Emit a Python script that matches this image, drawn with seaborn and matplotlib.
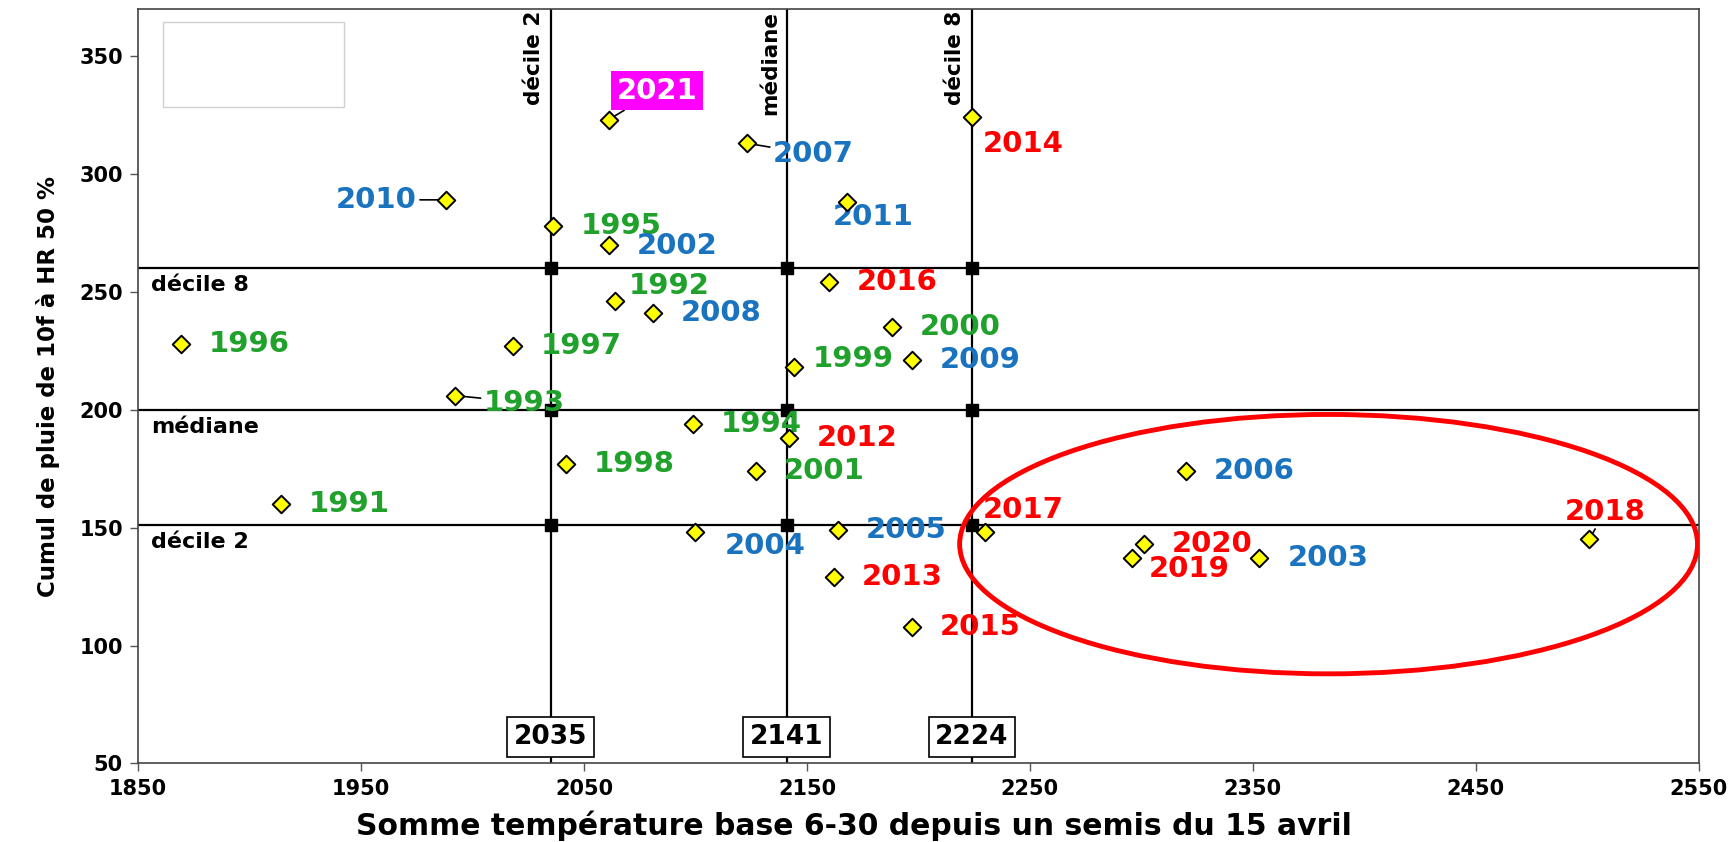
import matplotlib
matplotlib.use("Agg")
import matplotlib.pyplot as plt
import matplotlib.transforms as mtransforms
from matplotlib.patches import Ellipse, Rectangle
import seaborn as sns
import pandas as pd

# Data
years = [1991, 1992, 1993, 1994, 1995, 1996, 1997, 1998, 1999, 2000, 2001,
         2002, 2003, 2004, 2005, 2006, 2007, 2008, 2009, 2010, 2011,
         2012, 2013, 2014, 2015, 2016, 2017, 2018, 2019, 2020, 2021]
somme_temp = [1914, 2064, 1992, 2099, 2036, 1869, 2018, 2042, 2144, 2188, 2127,
              2061, 2353, 2100, 2164, 2320, 2123, 2081, 2197, 1988, 2168,
              2142, 2162, 2224, 2197, 2160, 2230, 2501, 2296, 2301, 2061]
cumul_pluie = [160, 246, 206, 194, 278, 228, 227, 177, 218, 235, 174,
               270, 137, 148, 149, 174, 313, 241, 221, 289, 288,
               188, 129, 324, 108, 254, 148, 145, 137, 143, 323]

deciles_temp = [2035, 2141, 2224]
deciles_temp_names = ["décile 2", "médiane", "décile 8"]
deciles_pluie = [151, 200, 260]
deciles_pluie_names = ["décile 2", "médiane", "décile 8"]

period_colors = {"1991-2001": "#1fa12b", "2002-2011": "#1a73bf", "2012-2020": "#ff0000"}


def period_of(year):
    if year <= 2001:
        return "1991-2001"
    if year <= 2011:
        return "2002-2011"
    return "2012-2020"


df = pd.DataFrame({"annee": years, "temp": somme_temp, "pluie": cumul_pluie})

# label placement (offset in points, alignment, leader line)
label_layout = {
    1992: ((10, 11), "left", False),
    1993: ((21, -5), "left", True),
    1999: ((14, 6), "left", False),
    2002: ((20, -1), "left", False),
    2004: ((21, -10), "left", False),
    2007: ((19, -8), "left", True),
    2010: ((-21, 0), "right", True),
    2011: ((-10, -11), "left", False),
    2014: ((8, -19), "left", False),
    2017: ((-2, 16), "left", False),
    2018: ((11, 20), "center", True),
    2019: ((12, -8), "left", False),
    2021: ((35, 21), "center", True),
}
default_layout = ((20, 0), "left", False)

sns.set_theme(style="ticks")
plt.rcParams["font.family"] = ["DejaVu Sans"]
plt.rcParams["font.weight"] = "bold"
plt.rcParams["text.color"] = "black"
plt.rcParams["axes.labelcolor"] = "black"
plt.rcParams["xtick.labelcolor"] = "black"
plt.rcParams["ytick.labelcolor"] = "black"

fig = plt.figure(figsize=(17.34, 8.42), dpi=100)
ax = fig.add_axes([0.0797, 0.0933, 0.8999, 0.8962])

# decile lines
for xv in deciles_temp:
    ax.axvline(xv, color="black", lw=1.6, zorder=1)
for yv in deciles_pluie:
    ax.axhline(yv, color="black", lw=1.6, zorder=1)
for xv in deciles_temp:
    ax.scatter([xv] * len(deciles_pluie), deciles_pluie, marker="s", s=85,
               color="black", zorder=2)

sns.scatterplot(data=df, x="temp", y="pluie", marker="D", s=80, color="#ffff00",
                edgecolor="black", linewidth=1.4, ax=ax, zorder=4)

for yr, xv, yv in zip(years, somme_temp, cumul_pluie):
    (dx, dy), ha, leader = label_layout.get(yr, default_layout)
    arrow = dict(arrowstyle="-", color="black", lw=1.2, shrinkA=0, shrinkB=0) if leader else None
    if yr == 2021:
        ax.annotate(str(yr), xy=(xv, yv), xytext=(dx, dy), textcoords="offset points",
                    ha=ha, va="center", fontsize=21, fontweight="bold", color="white",
                    bbox=dict(boxstyle="square,pad=0.2", fc="#ff00ff", ec="none"),
                    arrowprops=arrow, zorder=3)
    else:
        ax.annotate(str(yr), xy=(xv, yv), xytext=(dx, dy), textcoords="offset points",
                    ha=ha, va="center", fontsize=21, fontweight="bold",
                    color=period_colors[period_of(yr)], arrowprops=arrow, zorder=3)

# decile names
trans_x = mtransforms.blended_transform_factory(ax.transData, ax.transAxes)
for xv, name in zip(deciles_temp, deciles_temp_names):
    ax.text(xv - 3, 0.997, name, transform=trans_x, rotation=90, ha="right", va="top",
            fontsize=15.5, fontweight="bold", color="black")
    ax.text(xv, 0.035, str(xv), transform=trans_x, ha="center", va="center",
            fontsize=19, fontweight="bold", color="black",
            bbox=dict(boxstyle="square,pad=0.25", fc="white", ec="black", lw=1.2), zorder=5)

trans_y = mtransforms.blended_transform_factory(ax.transAxes, ax.transData)
for yv, name in zip(deciles_pluie, deciles_pluie_names):
    ax.annotate(name, xy=(0.008, yv), xycoords=trans_y, xytext=(0, -5),
                textcoords="offset points", ha="left", va="top",
                fontsize=16, fontweight="bold", color="black")

# highlighted zone and empty box
ax.add_patch(Ellipse((2384, 143), width=331, height=110, fill=False,
                     edgecolor="#ff0000", lw=3.5, zorder=6))
ax.add_patch(Rectangle((0.0156, 0.8695), 0.1164, 0.1125, transform=ax.transAxes,
                       fill=False, edgecolor="#d0d0d0", lw=1))

ax.set_xlim(1850, 2550)
ax.set_ylim(50, 370)
ax.set_xticks(range(1850, 2551, 100))
ax.set_yticks(range(50, 351, 50))
ax.tick_params(axis="both", labelsize=15, length=6, width=1, color="#555555",
               direction="out", pad=5)
for lab in ax.get_xticklabels() + ax.get_yticklabels():
    lab.set_fontweight("bold")
for sp in ax.spines.values():
    sp.set_color("#444444")
    sp.set_linewidth(1.2)

ax.set_xlabel("Somme température base 6-30 depuis un semis du 15 avril",
              fontsize=21.5, fontweight="bold")
ax.xaxis.set_label_coords(0.4585, -0.063)
ax.set_ylabel("Cumul de pluie de 10f à HR 50 %", fontsize=16.5, fontweight="bold", labelpad=14)

fig.savefig("out.png", dpi=100)
